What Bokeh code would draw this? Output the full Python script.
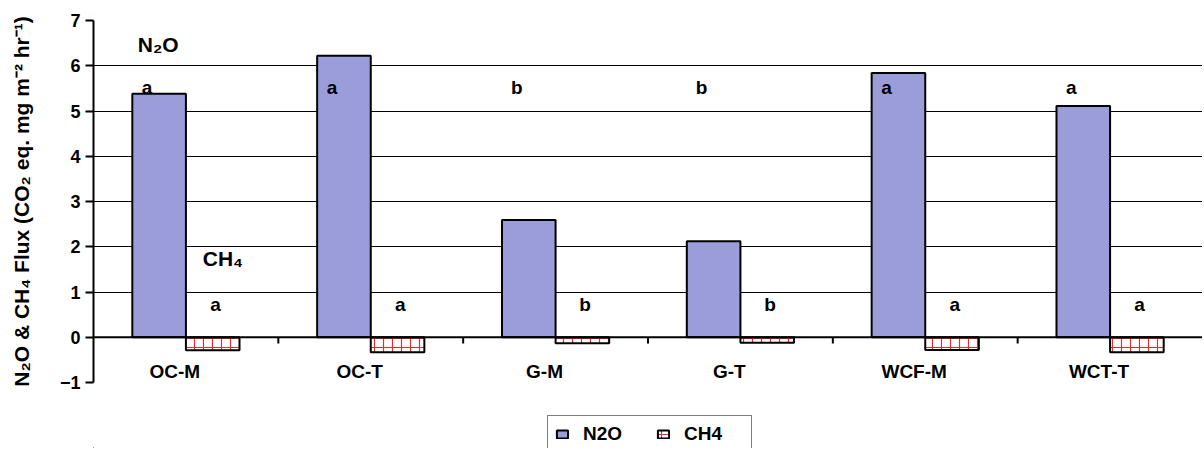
from bokeh.plotting import figure
from bokeh.layouts import column
from bokeh.models import Range1d, FixedTicker, Span, Legend, LegendItem, ColumnDataSource
from bokeh.core.properties import value
from bokeh.embed import file_html
from bokeh.resources import INLINE

categories = ["OC-M", "OC-T", "G-M", "G-T", "WCF-M", "WCT-T"]
n2o = [5.38, 6.22, 2.59, 2.12, 5.84, 5.11]
ch4 = [-0.29, -0.33, -0.13, -0.12, -0.28, -0.33]
n2o_letters = ["a", "a", "b", "b", "a", "a"]
ch4_letters = ["a", "a", "b", "b", "a", "a"]
y_ticks = [-1, 0, 1, 2, 3, 4, 5, 6, 7]
y_title = "N\u2082O & CH\u2084 Flux (CO\u2082 eq. mg m\u207b\u00b2 hr\u207b\u00b9)"

FONT = "Liberation Sans"
N2O_COLOR = "#9a9dda"
n = len(categories)
centers = [i + 0.5 for i in range(n)]
bw = 0.29

src = ColumnDataSource(dict(
    cat=categories,
    xn=[c - bw / 2 for c in centers],
    xc=[c + bw / 2 for c in centers],
    xl=[c - 0.06 for c in centers],
    n2o=n2o, ch4=ch4,
    zero=[0] * n,
    nl=n2o_letters, cl=ch4_letters,
    xnl=[i + 0.29 for i in range(n)],
    xcl=[i + 0.66 for i in range(n)],
    ynl=[5.53] * n, ycl=[0.73] * n,
))

p = figure(width=1202, height=394, output_backend="svg", toolbar_location=None,
           x_range=Range1d(0, n), y_range=Range1d(min(y_ticks), max(y_ticks)),
           x_axis_location=None, min_border_left=93, min_border_right=0,
           min_border_top=20, min_border_bottom=12)
p.outline_line_color = None
p.xgrid.visible = False
p.ygrid.ticker = FixedTicker(ticks=[t for t in y_ticks if t > 0])
p.ygrid.grid_line_color = "black"
p.ygrid.grid_line_width = 1

ax = p.yaxis[0]
ax.ticker = FixedTicker(ticks=y_ticks)
ax.axis_line_width = 2
ax.axis_line_color = "black"
ax.major_tick_out = 8
ax.major_tick_in = 0
ax.major_tick_line_width = 2
ax.minor_tick_out = 0
ax.minor_tick_in = 0
ax.major_label_text_font = FONT
ax.major_label_text_font_style = "bold"
ax.major_label_text_font_size = "18px"
ax.major_label_text_color = "black"
ax.major_label_standoff = 5
ax.axis_label = y_title
ax.axis_label_text_font = FONT
ax.axis_label_text_font_style = "bold"
ax.axis_label_text_font_size = "21px"
ax.axis_label_text_color = "black"
ax.axis_label_standoff = 24

p.vbar(x="xn", width=bw, top="n2o", bottom="zero", source=src,
       fill_color=N2O_COLOR, line_color="black", line_width=2)
hatch = dict(hatch_pattern="cross", hatch_color="#e03030", hatch_scale=9, hatch_weight=1.2)
p.vbar(x="xc", width=bw, top="zero", bottom="ch4", source=src,
       fill_color="white", line_color="black", line_width=2, **hatch)

p.add_layout(Span(location=0, dimension="width", line_color="black", line_width=2))

# boundary tick marks on the zero line
bx = list(range(1, n))
p.segment(x0=bx, x1=bx, y0=[0] * len(bx), y1=[-0.14] * len(bx), line_color="black", line_width=2)

p.text(x="xl", y="zero", text="cat", source=src, text_align="center", text_baseline="top",
       y_offset=24, text_font=value(FONT), text_font_style="bold", text_font_size="19px",
       text_color="black")
p.text(x="xnl", y="ynl", text="nl", source=src, text_align="center", text_baseline="middle",
       text_font=value(FONT), text_font_style="bold", text_font_size="19px", text_color="black")
p.text(x="xcl", y="ycl", text="cl", source=src, text_align="center", text_baseline="middle",
       text_font=value(FONT), text_font_style="bold", text_font_size="19px", text_color="black")

p.text(x=[0.35], y=[6.46], text=["N\u2082O"], text_align="center", text_baseline="middle",
       text_font=value(FONT), text_font_style="bold", text_font_size="21px", text_color="black")
p.text(x=[0.70], y=[1.75], text=["CH\u2084"], text_align="center", text_baseline="middle",
       text_font=value(FONT), text_font_style="bold", text_font_size="21px", text_color="black")

# legend strip below the plot (its frame is aligned with the main frame by the column)
lg = figure(width=1202, height=54, output_backend="svg", toolbar_location=None,
            x_range=Range1d(0, 1), y_range=Range1d(0, 1),
            x_axis_location=None, y_axis_location=None,
            min_border_left=0, min_border_right=0, min_border_top=0, min_border_bottom=0)
lg.outline_line_color = None
lg.xgrid.visible = False
lg.ygrid.visible = False
# legend-only proxies, placed outside the visible ranges
ln = lg.vbar(x=[-5], width=0.1, top=[-5], bottom=[-6],
             fill_color=N2O_COLOR, line_color="black", line_width=2)
lc = lg.vbar(x=[-5], width=0.1, top=[-5], bottom=[-6],
             fill_color="white", line_color="black", line_width=2, **hatch)

legend = Legend(items=[LegendItem(label="N2O", renderers=[ln]),
                       LegendItem(label="CH4", renderers=[lc])],
                orientation="horizontal", location=(454, -5))
legend.label_text_font = FONT
legend.label_text_font_style = "bold"
legend.label_text_font_size = "19px"
legend.label_text_color = "black"
legend.border_line_color = "black"
legend.border_line_width = 1.5
legend.glyph_width = 14
legend.glyph_height = 10
legend.padding = 7
legend.spacing = 13
legend.margin = 0
legend.label_standoff = 14
legend.label_width = 60
lg.add_layout(legend)

layout = column(p, lg, spacing=0)
open("out.html", "w").write(file_html(layout, INLINE))
